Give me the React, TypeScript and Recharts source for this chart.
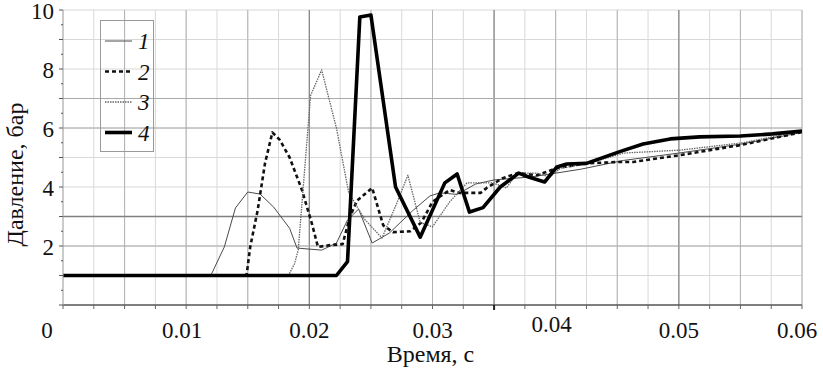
import React from 'react';
import { LineChart, Line, XAxis, YAxis, CartesianGrid, ReferenceLine } from 'recharts';

// ---- data (time in s, pressure in bar) ----
const curve1 = [
  { t: 0, p: 1 }, { t: 0.012, p: 1 }, { t: 0.0131, p: 1.97 }, { t: 0.014, p: 3.29 },
  { t: 0.015, p: 3.83 }, { t: 0.016, p: 3.76 }, { t: 0.0171, p: 3.32 }, { t: 0.0184, p: 2.6 },
  { t: 0.019, p: 1.93 }, { t: 0.021, p: 1.86 }, { t: 0.0222, p: 2.1 }, { t: 0.0231, p: 2.88 },
  { t: 0.024, p: 3.25 }, { t: 0.0251, p: 2.1 }, { t: 0.0265, p: 2.44 }, { t: 0.0284, p: 3.2 },
  { t: 0.0298, p: 3.7 }, { t: 0.0306, p: 3.8 }, { t: 0.032, p: 3.75 }, { t: 0.0335, p: 4.1 },
  { t: 0.035, p: 4.24 }, { t: 0.038, p: 4.34 }, { t: 0.042, p: 4.6 }, { t: 0.0455, p: 4.9 },
  { t: 0.05, p: 5.15 }, { t: 0.055, p: 5.45 }, { t: 0.06, p: 5.85 },
];

const curve2 = [
  { t: 0, p: 1 }, { t: 0.0149, p: 1 }, { t: 0.0152, p: 1.97 }, { t: 0.0158, p: 3.2 },
  { t: 0.0164, p: 4.8 }, { t: 0.017, p: 5.85 }, { t: 0.0176, p: 5.6 }, { t: 0.0184, p: 5.0 },
  { t: 0.0194, p: 3.9 }, { t: 0.0202, p: 2.77 }, { t: 0.0207, p: 1.97 }, { t: 0.0217, p: 2.03 },
  { t: 0.0227, p: 2.06 }, { t: 0.0233, p: 3.0 }, { t: 0.0239, p: 3.55 }, { t: 0.0251, p: 3.97 },
  { t: 0.026, p: 2.7 }, { t: 0.0268, p: 2.47 }, { t: 0.0282, p: 2.5 }, { t: 0.0291, p: 2.8 },
  { t: 0.03, p: 3.5 }, { t: 0.0314, p: 3.9 }, { t: 0.0322, p: 3.8 }, { t: 0.0339, p: 3.8 },
  { t: 0.0344, p: 3.97 }, { t: 0.0357, p: 4.3 }, { t: 0.0369, p: 4.47 }, { t: 0.0385, p: 4.4 },
  { t: 0.0401, p: 4.64 }, { t: 0.0425, p: 4.8 }, { t: 0.0452, p: 4.85 }, { t: 0.0463, p: 4.85 },
  { t: 0.0501, p: 5.08 }, { t: 0.055, p: 5.42 }, { t: 0.06, p: 5.86 },
];

const curve3 = [
  { t: 0, p: 1 }, { t: 0.0183, p: 1 }, { t: 0.0188, p: 1.4 }, { t: 0.0191, p: 1.87 },
  { t: 0.0201, p: 7.1 }, { t: 0.021, p: 7.97 }, { t: 0.0222, p: 6.0 }, { t: 0.0232, p: 3.8 },
  { t: 0.0245, p: 2.9 }, { t: 0.0259, p: 2.27 }, { t: 0.0271, p: 3.45 }, { t: 0.028, p: 4.4 },
  { t: 0.029, p: 2.8 }, { t: 0.03, p: 2.65 }, { t: 0.0314, p: 3.5 }, { t: 0.0328, p: 4.14 },
  { t: 0.0339, p: 4.14 }, { t: 0.0349, p: 4.14 }, { t: 0.036, p: 3.97 }, { t: 0.0369, p: 4.47 },
  { t: 0.0385, p: 4.47 }, { t: 0.0395, p: 4.34 }, { t: 0.0404, p: 4.64 }, { t: 0.0425, p: 4.78 },
  { t: 0.0455, p: 5.15 }, { t: 0.0501, p: 5.25 }, { t: 0.0552, p: 5.5 }, { t: 0.06, p: 5.9 },
];

const curve4 = [
  { t: 0, p: 1 }, { t: 0.0222, p: 1 }, { t: 0.0231, p: 1.47 }, { t: 0.0241, p: 9.76 },
  { t: 0.025, p: 9.83 }, { t: 0.027, p: 4.0 }, { t: 0.029, p: 2.3 }, { t: 0.031, p: 4.14 },
  { t: 0.032, p: 4.44 }, { t: 0.033, p: 3.15 }, { t: 0.0341, p: 3.3 }, { t: 0.0355, p: 4.0 },
  { t: 0.037, p: 4.47 }, { t: 0.0378, p: 4.34 }, { t: 0.0391, p: 4.17 }, { t: 0.0401, p: 4.68 },
  { t: 0.0409, p: 4.78 }, { t: 0.0425, p: 4.8 }, { t: 0.0452, p: 5.2 }, { t: 0.0471, p: 5.46 },
  { t: 0.0493, p: 5.63 }, { t: 0.0517, p: 5.7 }, { t: 0.055, p: 5.73 }, { t: 0.0576, p: 5.8 },
  { t: 0.06, p: 5.9 },
];

const seriesNames = ['1', '2', '3', '4'];

const xTicks = [
  0, 0.0025, 0.005, 0.0075, 0.01, 0.0125, 0.015, 0.0175, 0.02, 0.0225, 0.025, 0.0275, 0.03,
  0.0325, 0.035, 0.0375, 0.04, 0.0425, 0.045, 0.0475, 0.05, 0.0525, 0.055, 0.0575, 0.06,
];
const xTickLabels = ['0', '0.01', '0.02', '0.03', '0.04', '0.05', '0.06'];

const yTicks = [0, 0.5, 1, 1.5, 2, 2.5, 3, 3.5, 4, 4.5, 5, 5.5, 6, 6.5, 7, 7.5, 8, 8.5, 9, 9.5, 10];
const yTickLabels = ['2', '4', '6', '8', '10'];
const yGrid = [1, 2, 3, 4, 5, 6, 7, 8, 9, 10];

const xTitle = 'Время, с';
const yTitle = 'Давление, бар';

// ---- styles ----
const FONT = 'Liberation Serif, Times New Roman, DejaVu Serif, serif';
const txtStyle = { fontFamily: FONT };
const seriesStyles = [
  { stroke: '#4a4a4a', width: 1, dash: undefined },
  { stroke: '#111', width: 2.6, dash: '4 3' },
  { stroke: '#666', width: 1.3, dash: '1.5 1' },
  { stroke: '#000', width: 3.6, dash: undefined },
];
const seriesData = [curve1, curve2, curve3, curve4];

const midVerticals = [0.005, 0.01, 0.015, 0.025, 0.03, 0.04, 0.045, 0.055, 0.06];
const darkVerticals = [0.02, 0.035, 0.05];
const midHorizontals = [2, 6, 7];
const darkHorizontals = [3];

const XTick = (props: any) => {
  const { x, y, payload } = props;
  const idx = xTicks.indexOf(payload.value);
  const major = idx % 4 === 0;
  const label = major ? xTickLabels[idx / 4] : null;
  let dx = 0;
  let dy = 0;
  if (label === '0') dx = -16;
  if (label === '0.01') dx = -4;
  if (label === '0.04') { dx = -4; dy = -6; }
  if (label === '0.06') dx = -5;
  const dark = payload.value === 0.035;
  return (
    <g>
      <line x1={x} x2={x} y1={y} y2={y + (dark ? 5 : 4)} stroke={dark ? '#222' : '#666'} strokeWidth={dark ? 2 : 1} />
      {label !== null && (
        <text x={x + dx} y={y + 33 + dy} textAnchor="middle" style={txtStyle} fontSize={23} fill="#111">
          {label}
        </text>
      )}
    </g>
  );
};

const YTick = (props: any) => {
  const { x, y, payload } = props;
  const v = payload.value;
  const isInt = Number.isInteger(v);
  const label = isInt && v % 2 === 0 && v > 0 ? yTickLabels[v / 2 - 1] : null;
  return (
    <g>
      <line x1={x - (isInt ? 4 : 2)} x2={x} y1={y} y2={y} stroke="#555" strokeWidth={1} />
      {label !== null && (
        <text x={x - 9} y={y + 9} textAnchor="end" style={txtStyle} fontSize={23} fill="#111">
          {label}
        </text>
      )}
    </g>
  );
};

const XTitle = (props: any) => {
  const vb = props.viewBox || {};
  const cx = vb.x + vb.width / 2;
  return (
    <text x={cx - 2} y={362} textAnchor="middle" style={txtStyle} fontSize={24} fill="#111">
      {xTitle}
    </text>
  );
};

const YTitle = (props: any) => {
  const vb = props.viewBox || {};
  const cy = vb.y + vb.height / 2;
  return (
    <text
      x={23}
      y={cy + 17}
      transform={`rotate(-90, 23, ${cy + 17})`}
      textAnchor="middle"
      style={txtStyle}
      fontSize={24}
      fill="#111"
    >
      {yTitle}
    </text>
  );
};

const LegendBox = () => (
  <div
    style={{
      position: 'absolute',
      left: 100,
      top: 20,
      width: 52,
      height: 130,
      border: '1px solid #9a9a9a',
      boxSizing: 'content-box',
      pointerEvents: 'none',
    }}
  >
    <svg width={52} height={130}>
      {seriesNames.map((name, i) => {
        const st = seriesStyles[i];
        const cy = 20 + i * 30.5;
        return (
          <g key={name}>
            <line x1={4} x2={31} y1={cy} y2={cy} stroke={st.stroke} strokeWidth={st.width} strokeDasharray={st.dash} />
            <text x={37} y={cy + 8} style={txtStyle} fontStyle="italic" fontSize={23} fill="#111">
              {name}
            </text>
          </g>
        );
      })}
    </svg>
  </div>
);

export default function App() {
  return (
    <div style={{ position: 'absolute', left: 0, top: 0, width: 823, height: 373, background: '#fff', fontFamily: FONT }}>
      <LineChart width={823} height={373} margin={{ top: 10, right: 21, left: 0, bottom: 0 }}>
        <CartesianGrid
          stroke="#d8d8d8"
          verticalValues={xTicks}
          horizontalValues={yGrid}
        />
        {midVerticals.map((v) => (
          <ReferenceLine key={'mv' + v} x={v} stroke="#b4b4b4" strokeWidth={1} />
        ))}
        {darkVerticals.map((v) => (
          <ReferenceLine key={'dv' + v} x={v} stroke="#888" strokeWidth={1.3} />
        ))}
        {midHorizontals.map((v) => (
          <ReferenceLine key={'mh' + v} y={v} stroke="#aaa" strokeWidth={1} />
        ))}
        {darkHorizontals.map((v) => (
          <ReferenceLine key={'dh' + v} y={v} stroke="#808080" strokeWidth={1.3} />
        ))}
        <XAxis
          dataKey="t"
          type="number"
          domain={[0, 0.06]}
          ticks={xTicks}
          interval={0}
          tickSize={0}
          tickMargin={0}
          tickLine={false}
          tick={<XTick />}
          axisLine={{ stroke: '#555', strokeWidth: 1.6 }}
          height={68}
          allowDataOverflow
          label={<XTitle />}
        />
        <YAxis
          dataKey="p"
          type="number"
          domain={[0, 10]}
          ticks={yTicks}
          interval={0}
          tickSize={0}
          tickMargin={0}
          tickLine={false}
          tick={<YTick />}
          axisLine={{ stroke: '#aaa', strokeWidth: 1 }}
          width={63}
          allowDataOverflow
          label={<YTitle />}
        />
        {seriesData.map((d, i) => (
          <Line
            key={seriesNames[i]}
            data={d}
            dataKey="p"
            name={seriesNames[i]}
            type="linear"
            stroke={seriesStyles[i].stroke}
            strokeWidth={seriesStyles[i].width}
            strokeDasharray={seriesStyles[i].dash}
            dot={false}
            activeDot={false}
            isAnimationActive={false}
            strokeLinejoin="round"
          />
        ))}
      </LineChart>
      <LegendBox />
    </div>
  );
}
